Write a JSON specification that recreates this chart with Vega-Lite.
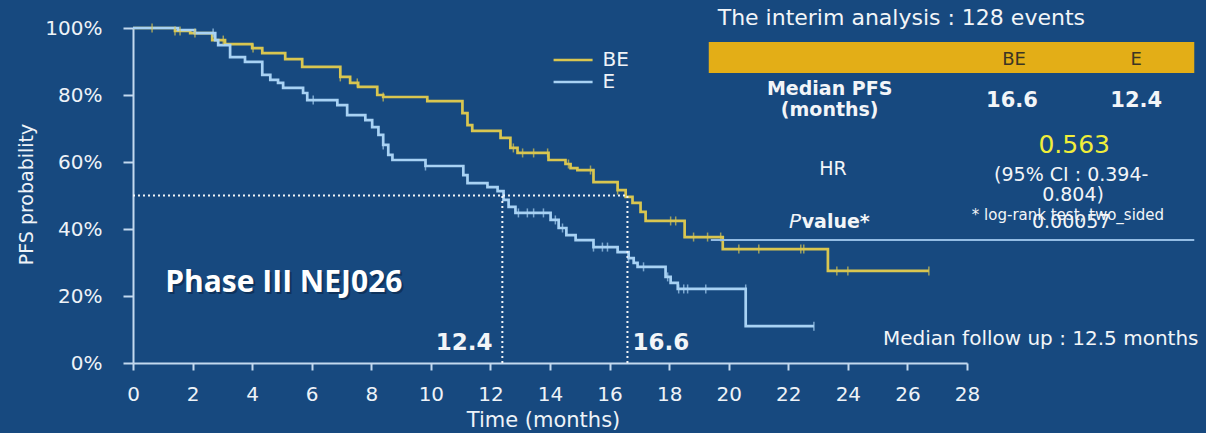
{
  "$schema": "https://vega.github.io/schema/vega-lite/v6.json",
  "width": 834,
  "height": 335,
  "autosize": {"type": "none"},
  "padding": {"left": 133, "top": 28, "right": 239, "bottom": 70},
  "background": "#17497f",
  "config": {"view": {"stroke": null}, "font": "DejaVu Sans"},
  "layer": [
    {
      "data": {"values": [
        {"series": "BE", "t": 0, "p": 100}, {"series": "BE", "t": 1.41, "p": 99.1}, {"series": "BE", "t": 1.92, "p": 98.5},
        {"series": "BE", "t": 2.66, "p": 96.4}, {"series": "BE", "t": 3.09, "p": 95.2}, {"series": "BE", "t": 4.0, "p": 94.0},
        {"series": "BE", "t": 4.34, "p": 92.5}, {"series": "BE", "t": 5.11, "p": 90.7}, {"series": "BE", "t": 5.68, "p": 88.4},
        {"series": "BE", "t": 6.96, "p": 85.4}, {"series": "BE", "t": 7.29, "p": 83.6}, {"series": "BE", "t": 7.56, "p": 82.4},
        {"series": "BE", "t": 8.2, "p": 80.0}, {"series": "BE", "t": 8.4, "p": 79.4}, {"series": "BE", "t": 9.88, "p": 78.2},
        {"series": "BE", "t": 11.06, "p": 74.6}, {"series": "BE", "t": 11.23, "p": 71.0}, {"series": "BE", "t": 11.39, "p": 69.3},
        {"series": "BE", "t": 12.34, "p": 67.2}, {"series": "BE", "t": 12.67, "p": 64.2}, {"series": "BE", "t": 12.91, "p": 62.7},
        {"series": "BE", "t": 13.95, "p": 60.6}, {"series": "BE", "t": 14.52, "p": 59.4}, {"series": "BE", "t": 14.69, "p": 58.2},
        {"series": "BE", "t": 14.92, "p": 57.6}, {"series": "BE", "t": 15.46, "p": 54.0}, {"series": "BE", "t": 16.27, "p": 51.6},
        {"series": "BE", "t": 16.54, "p": 49.6}, {"series": "BE", "t": 16.77, "p": 47.8}, {"series": "BE", "t": 17.04, "p": 45.1},
        {"series": "BE", "t": 17.21, "p": 42.4}, {"series": "BE", "t": 18.52, "p": 37.6}, {"series": "BE", "t": 19.8, "p": 34.0},
        {"series": "BE", "t": 23.33, "p": 27.5}, {"series": "BE", "t": 26.72, "p": 27.5},
        {"series": "E", "t": 0, "p": 100}, {"series": "E", "t": 1.51, "p": 99.4}, {"series": "E", "t": 2.08, "p": 98.5},
        {"series": "E", "t": 2.76, "p": 96.4}, {"series": "E", "t": 2.86, "p": 94.9}, {"series": "E", "t": 3.26, "p": 91.3},
        {"series": "E", "t": 3.76, "p": 89.9}, {"series": "E", "t": 4.34, "p": 86.0}, {"series": "E", "t": 4.61, "p": 84.5},
        {"series": "E", "t": 4.87, "p": 83.6}, {"series": "E", "t": 5.04, "p": 82.1}, {"series": "E", "t": 5.71, "p": 80.6},
        {"series": "E", "t": 5.85, "p": 78.5}, {"series": "E", "t": 6.86, "p": 77.0}, {"series": "E", "t": 7.19, "p": 74.0},
        {"series": "E", "t": 7.8, "p": 72.5}, {"series": "E", "t": 8.03, "p": 70.4}, {"series": "E", "t": 8.24, "p": 68.1},
        {"series": "E", "t": 8.4, "p": 65.1}, {"series": "E", "t": 8.57, "p": 62.1}, {"series": "E", "t": 8.71, "p": 60.6},
        {"series": "E", "t": 9.82, "p": 58.8}, {"series": "E", "t": 11.09, "p": 56.1}, {"series": "E", "t": 11.23, "p": 53.7},
        {"series": "E", "t": 11.9, "p": 52.5}, {"series": "E", "t": 12.24, "p": 51.3}, {"series": "E", "t": 12.44, "p": 48.7},
        {"series": "E", "t": 12.61, "p": 46.6}, {"series": "E", "t": 12.84, "p": 44.8}, {"series": "E", "t": 14.02, "p": 42.7},
        {"series": "E", "t": 14.29, "p": 40.3}, {"series": "E", "t": 14.55, "p": 38.2}, {"series": "E", "t": 14.86, "p": 36.7},
        {"series": "E", "t": 15.46, "p": 34.6}, {"series": "E", "t": 16.27, "p": 33.1}, {"series": "E", "t": 16.64, "p": 31.3},
        {"series": "E", "t": 16.81, "p": 29.9}, {"series": "E", "t": 16.94, "p": 28.7}, {"series": "E", "t": 17.88, "p": 25.7},
        {"series": "E", "t": 18.05, "p": 23.9}, {"series": "E", "t": 18.29, "p": 22.1}, {"series": "E", "t": 20.57, "p": 11.0},
        {"series": "E", "t": 22.86, "p": 11.0}
      ]},
      "mark": {"type": "line", "interpolate": "step-after", "strokeWidth": 2.7},
      "encoding": {
        "x": {"field": "t", "type": "quantitative", "scale": {"domain": [0, 28], "nice": false, "zero": false},
          "axis": {"values": [0, 2, 4, 6, 8, 10, 12, 14, 16, 18, 20, 22, 24, 26, 28], "title": "Time (months)", "grid": false,
            "domainColor": "#c3d9ef", "domainWidth": 2, "tickColor": "#c3d9ef", "tickWidth": 2, "tickSize": 7,
            "labelFont": "DejaVu Sans", "labelFontSize": 20, "labelColor": "#eef3f8", "labelPadding": 14, "labelFlush": false, "labelOverlap": false,
            "titleFont": "DejaVu Sans", "titleFontSize": 21, "titleFontWeight": "normal", "titleColor": "#eef3f8",
            "titleX": 410, "titleY": 63, "titleBaseline": "alphabetic"}},
        "y": {"field": "p", "type": "quantitative", "scale": {"domain": [0, 100], "nice": false},
          "axis": {"values": [0, 20, 40, 60, 80, 100], "labelExpr": "datum.value + '%'", "title": "PFS probability", "grid": false,
            "domainColor": "#c3d9ef", "domainWidth": 2, "tickColor": "#c3d9ef", "tickWidth": 2, "tickSize": 10,
            "labelFont": "DejaVu Sans", "labelFontSize": 20, "labelColor": "#eef3f8", "labelPadding": 21, "labelOverlap": false,
            "titleFont": "DejaVu Sans", "titleFontSize": 19, "titleFontWeight": "normal", "titleColor": "#eef3f8",
            "titleX": -107, "titleY": 166, "titleAngle": 270, "titleBaseline": "middle", "titleAlign": "center"}},
        "color": {"field": "series", "type": "nominal", "scale": {"domain": ["BE", "E"], "range": ["#d9c650", "#a8d2f4"]}, "legend": null}
      }
    },
    {
      "data": {"values": [
        {"t": 0, "t2": 16.6, "p": 50, "p2": 50},
        {"t": 12.4, "t2": 12.4, "p": 0, "p2": 50},
        {"t": 16.6, "t2": 16.6, "p": 0, "p2": 50}
      ]},
      "mark": {"type": "rule", "color": "#f2f5f8", "strokeWidth": 2, "strokeDash": [2, 3]},
      "encoding": {
        "x": {"field": "t", "type": "quantitative", "scale": {"domain": [0, 28], "nice": false, "zero": false}},
        "x2": {"field": "t2"},
        "y": {"field": "p", "type": "quantitative", "scale": {"domain": [0, 100], "nice": false}},
        "y2": {"field": "p2"}
      }
    },
    {
      "data": {"values": [
        {"series": "BE", "t": 0.64, "p": 100}, {"series": "BE", "t": 1.41, "p": 99.1}, {"series": "BE", "t": 1.58, "p": 99.1},
        {"series": "BE", "t": 2.08, "p": 98.5}, {"series": "BE", "t": 3.03, "p": 96.4}, {"series": "BE", "t": 4.03, "p": 94.0},
        {"series": "BE", "t": 6.96, "p": 85.4}, {"series": "BE", "t": 7.53, "p": 83.6}, {"series": "BE", "t": 8.4, "p": 79.4},
        {"series": "BE", "t": 12.77, "p": 64.2}, {"series": "BE", "t": 13.08, "p": 62.7}, {"series": "BE", "t": 13.45, "p": 62.7},
        {"series": "BE", "t": 13.92, "p": 62.7}, {"series": "BE", "t": 14.62, "p": 59.4}, {"series": "BE", "t": 15.36, "p": 57.6},
        {"series": "BE", "t": 16.27, "p": 51.6}, {"series": "BE", "t": 18.05, "p": 42.4}, {"series": "BE", "t": 18.22, "p": 42.4},
        {"series": "BE", "t": 18.82, "p": 37.6}, {"series": "BE", "t": 19.29, "p": 37.6}, {"series": "BE", "t": 19.73, "p": 37.6},
        {"series": "BE", "t": 20.34, "p": 34.0}, {"series": "BE", "t": 21.01, "p": 34.0}, {"series": "BE", "t": 22.42, "p": 34.0},
        {"series": "BE", "t": 22.52, "p": 34.0}, {"series": "BE", "t": 23.63, "p": 27.5}, {"series": "BE", "t": 24.0, "p": 27.5},
        {"series": "BE", "t": 26.72, "p": 27.5},
        {"series": "E", "t": 2.69, "p": 98.5}, {"series": "E", "t": 6.05, "p": 78.5}, {"series": "E", "t": 8.4, "p": 65.1},
        {"series": "E", "t": 9.82, "p": 58.8}, {"series": "E", "t": 12.94, "p": 44.8}, {"series": "E", "t": 13.24, "p": 44.8},
        {"series": "E", "t": 13.45, "p": 44.8}, {"series": "E", "t": 13.78, "p": 44.8}, {"series": "E", "t": 14.18, "p": 42.7},
        {"series": "E", "t": 14.42, "p": 40.3}, {"series": "E", "t": 15.46, "p": 34.6}, {"series": "E", "t": 15.76, "p": 34.6},
        {"series": "E", "t": 15.93, "p": 34.6}, {"series": "E", "t": 16.64, "p": 31.3}, {"series": "E", "t": 17.14, "p": 28.7},
        {"series": "E", "t": 17.95, "p": 25.7}, {"series": "E", "t": 18.32, "p": 22.1}, {"series": "E", "t": 18.49, "p": 22.1},
        {"series": "E", "t": 18.62, "p": 22.1}, {"series": "E", "t": 19.23, "p": 22.1}, {"series": "E", "t": 20.57, "p": 22.1},
        {"series": "E", "t": 22.86, "p": 11.0}
      ]},
      "mark": {"type": "tick", "orient": "vertical", "size": 9, "thickness": 1.5},
      "encoding": {
        "x": {"field": "t", "type": "quantitative", "scale": {"domain": [0, 28], "nice": false, "zero": false}},
        "y": {"field": "p", "type": "quantitative", "scale": {"domain": [0, 100], "nice": false}},
        "color": {"field": "series", "type": "nominal", "scale": {"domain": ["BE", "E"], "range": ["#d9c650", "#a8d2f4"]}, "legend": null}
      }
    },
    {
      "data": {"values": [
        {"series": "BE", "t": 14.12, "t2": 15.43, "p": 90.45},
        {"series": "E", "t": 14.12, "t2": 15.43, "p": 83.88}
      ]},
      "mark": {"type": "rule", "strokeWidth": 2.5},
      "encoding": {
        "x": {"field": "t", "type": "quantitative", "scale": {"domain": [0, 28], "nice": false, "zero": false}},
        "x2": {"field": "t2"},
        "y": {"field": "p", "type": "quantitative", "scale": {"domain": [0, 100], "nice": false}},
        "color": {"field": "series", "type": "nominal", "scale": {"domain": ["BE", "E"], "range": ["#d9c650", "#a8d2f4"]}, "legend": null}
      }
    },
    {
      "data": {"values": [
        {"label": "BE", "t": 15.76, "p": 90.45},
        {"label": "E", "t": 15.76, "p": 83.88}
      ]},
      "mark": {"type": "text", "align": "left", "baseline": "middle", "font": "DejaVu Sans", "fontSize": 20, "color": "#eef3f8"},
      "encoding": {
        "x": {"field": "t", "type": "quantitative", "scale": {"domain": [0, 28], "nice": false, "zero": false}},
        "y": {"field": "p", "type": "quantitative", "scale": {"domain": [0, 100], "nice": false}},
        "text": {"field": "label"}
      }
    },
    {
      "data": {"values": [
        {"t": 19.33, "t2": 35.63, "p": 95.8, "p2": 86.6}
      ]},
      "mark": {"type": "rect", "color": "#e3ae17"},
      "encoding": {
        "x": {"field": "t", "type": "quantitative", "scale": {"domain": [0, 28], "nice": false, "zero": false}},
        "x2": {"field": "t2"},
        "y": {"field": "p", "type": "quantitative", "scale": {"domain": [0, 100], "nice": false}},
        "y2": {"field": "p2"}
      }
    },
    {
      "data": {"values": [
        {"t": 19.4, "t2": 35.63, "p": 36.72}
      ]},
      "mark": {"type": "rule", "color": "#93bce4", "strokeWidth": 2},
      "encoding": {
        "x": {"field": "t", "type": "quantitative", "scale": {"domain": [0, 28], "nice": false, "zero": false}},
        "x2": {"field": "t2"},
        "y": {"field": "p", "type": "quantitative", "scale": {"domain": [0, 100], "nice": false}}
      }
    },
    {
      "data": {"values": [
        {"label": "The interim analysis : 128 events", "t": 19.63, "p": 100.9}
      ]},
      "mark": {"type": "text", "align": "left", "baseline": "alphabetic", "font": "DejaVu Sans", "fontSize": 22, "color": "#f2f5f8"},
      "encoding": {
        "x": {"field": "t", "type": "quantitative", "scale": {"domain": [0, 28], "nice": false, "zero": false}},
        "y": {"field": "p", "type": "quantitative", "scale": {"domain": [0, 100], "nice": false}},
        "text": {"field": "label"}
      }
    },
    {
      "data": {"values": [
        {"label": "BE", "t": 29.58, "p": 88.96},
        {"label": "E", "t": 33.68, "p": 88.96}
      ]},
      "mark": {"type": "text", "align": "center", "baseline": "alphabetic", "font": "DejaVu Sans", "fontSize": 18, "color": "#3b3524"},
      "encoding": {
        "x": {"field": "t", "type": "quantitative", "scale": {"domain": [0, 28], "nice": false, "zero": false}},
        "y": {"field": "p", "type": "quantitative", "scale": {"domain": [0, 100], "nice": false}},
        "text": {"field": "label"}
      }
    },
    {
      "data": {"values": [
        {"label": "Median PFS", "t": 23.39, "p": 80.0},
        {"label": "(months)", "t": 23.39, "p": 73.73}
      ]},
      "mark": {"type": "text", "align": "center", "baseline": "alphabetic", "font": "DejaVu Sans", "fontSize": 19, "fontWeight": "bold", "color": "#f2f5f8"},
      "encoding": {
        "x": {"field": "t", "type": "quantitative", "scale": {"domain": [0, 28], "nice": false, "zero": false}},
        "y": {"field": "p", "type": "quantitative", "scale": {"domain": [0, 100], "nice": false}},
        "text": {"field": "label"}
      }
    },
    {
      "data": {"values": [
        {"label": "16.6", "t": 29.51, "p": 76.42},
        {"label": "12.4", "t": 33.68, "p": 76.42}
      ]},
      "mark": {"type": "text", "align": "center", "baseline": "alphabetic", "font": "DejaVu Sans", "fontSize": 21, "fontWeight": "bold", "color": "#f2f5f8"},
      "encoding": {
        "x": {"field": "t", "type": "quantitative", "scale": {"domain": [0, 28], "nice": false, "zero": false}},
        "y": {"field": "p", "type": "quantitative", "scale": {"domain": [0, 100], "nice": false}},
        "text": {"field": "label"}
      }
    },
    {
      "data": {"values": [
        {"label": "0.563", "t": 31.6, "p": 62.69}
      ]},
      "mark": {"type": "text", "align": "center", "baseline": "alphabetic", "font": "DejaVu Sans", "fontSize": 25, "color": "#f0ee3a"},
      "encoding": {
        "x": {"field": "t", "type": "quantitative", "scale": {"domain": [0, 28], "nice": false, "zero": false}},
        "y": {"field": "p", "type": "quantitative", "scale": {"domain": [0, 100], "nice": false}},
        "text": {"field": "label"}
      }
    },
    {
      "data": {"values": [
        {"label": "HR", "t": 23.5, "p": 56.12},
        {"label": "(95% CI : 0.394-", "t": 31.5, "p": 54.33},
        {"label": "0.804)", "t": 31.56, "p": 48.36},
        {"label": "0.00057", "t": 31.5, "p": 40.3}
      ]},
      "mark": {"type": "text", "align": "center", "baseline": "alphabetic", "font": "DejaVu Sans", "fontSize": 19, "color": "#f2f5f8"},
      "encoding": {
        "x": {"field": "t", "type": "quantitative", "scale": {"domain": [0, 28], "nice": false, "zero": false}},
        "y": {"field": "p", "type": "quantitative", "scale": {"domain": [0, 100], "nice": false}},
        "text": {"field": "label"}
      }
    },
    {
      "data": {"values": [
        {"label": "* log-rank test, two_sided", "t": 31.39, "p": 42.69}
      ]},
      "mark": {"type": "text", "align": "center", "baseline": "alphabetic", "font": "DejaVu Sans", "fontSize": 15, "color": "#f2f5f8"},
      "encoding": {
        "x": {"field": "t", "type": "quantitative", "scale": {"domain": [0, 28], "nice": false, "zero": false}},
        "y": {"field": "p", "type": "quantitative", "scale": {"domain": [0, 100], "nice": false}},
        "text": {"field": "label"}
      }
    },
    {
      "data": {"values": [
        {"label": "P", "t": 22.02, "p": 40.3}
      ]},
      "mark": {"type": "text", "align": "left", "baseline": "alphabetic", "font": "DejaVu Sans", "fontSize": 20, "fontStyle": "italic", "color": "#f2f5f8"},
      "encoding": {
        "x": {"field": "t", "type": "quantitative", "scale": {"domain": [0, 28], "nice": false, "zero": false}},
        "y": {"field": "p", "type": "quantitative", "scale": {"domain": [0, 100], "nice": false}},
        "text": {"field": "label"}
      }
    },
    {
      "data": {"values": [
        {"label": "value*", "t": 22.45, "p": 40.3}
      ]},
      "mark": {"type": "text", "align": "left", "baseline": "alphabetic", "font": "DejaVu Sans", "fontSize": 19, "fontWeight": "bold", "color": "#f2f5f8"},
      "encoding": {
        "x": {"field": "t", "type": "quantitative", "scale": {"domain": [0, 28], "nice": false, "zero": false}},
        "y": {"field": "p", "type": "quantitative", "scale": {"domain": [0, 100], "nice": false}},
        "text": {"field": "label"}
      }
    },
    {
      "data": {"values": [
        {"label": "Median follow up : 12.5 months", "t": 25.18, "p": 5.37}
      ]},
      "mark": {"type": "text", "align": "left", "baseline": "alphabetic", "font": "DejaVu Sans", "fontSize": 20, "color": "#f2f5f8"},
      "encoding": {
        "x": {"field": "t", "type": "quantitative", "scale": {"domain": [0, 28], "nice": false, "zero": false}},
        "y": {"field": "p", "type": "quantitative", "scale": {"domain": [0, 100], "nice": false}},
        "text": {"field": "label"}
      }
    },
    {
      "data": {"values": [
        {"label": "12.4", "t": 12.07, "p": 3.88}
      ]},
      "mark": {"type": "text", "align": "right", "baseline": "alphabetic", "font": "DejaVu Sans", "fontSize": 23, "fontWeight": "bold", "color": "#f2f5f8"},
      "encoding": {
        "x": {"field": "t", "type": "quantitative", "scale": {"domain": [0, 28], "nice": false, "zero": false}},
        "y": {"field": "p", "type": "quantitative", "scale": {"domain": [0, 100], "nice": false}},
        "text": {"field": "label"}
      }
    },
    {
      "data": {"values": [
        {"label": "16.6", "t": 16.77, "p": 3.88}
      ]},
      "mark": {"type": "text", "align": "left", "baseline": "alphabetic", "font": "DejaVu Sans", "fontSize": 23, "fontWeight": "bold", "color": "#f2f5f8"},
      "encoding": {
        "x": {"field": "t", "type": "quantitative", "scale": {"domain": [0, 28], "nice": false, "zero": false}},
        "y": {"field": "p", "type": "quantitative", "scale": {"domain": [0, 100], "nice": false}},
        "text": {"field": "label"}
      }
    },
    {
      "data": {"values": [
        {"label": "Phase III NEJ026", "t": 1.08, "p": 21.19}
      ]},
      "mark": {"type": "text", "align": "left", "baseline": "alphabetic", "font": "Open Sans", "fontSize": 30, "fontWeight": "bold", "color": "#0b2546", "opacity": 0.6, "dx": 2, "dy": 2},
      "encoding": {
        "x": {"field": "t", "type": "quantitative", "scale": {"domain": [0, 28], "nice": false, "zero": false}},
        "y": {"field": "p", "type": "quantitative", "scale": {"domain": [0, 100], "nice": false}},
        "text": {"field": "label"}
      }
    },
    {
      "data": {"values": [
        {"label": "Phase III NEJ026", "t": 1.08, "p": 21.19}
      ]},
      "mark": {"type": "text", "align": "left", "baseline": "alphabetic", "font": "Open Sans", "fontSize": 30, "fontWeight": "bold", "color": "#ffffff"},
      "encoding": {
        "x": {"field": "t", "type": "quantitative", "scale": {"domain": [0, 28], "nice": false, "zero": false}},
        "y": {"field": "p", "type": "quantitative", "scale": {"domain": [0, 100], "nice": false}},
        "text": {"field": "label"}
      }
    }
  ]
}
